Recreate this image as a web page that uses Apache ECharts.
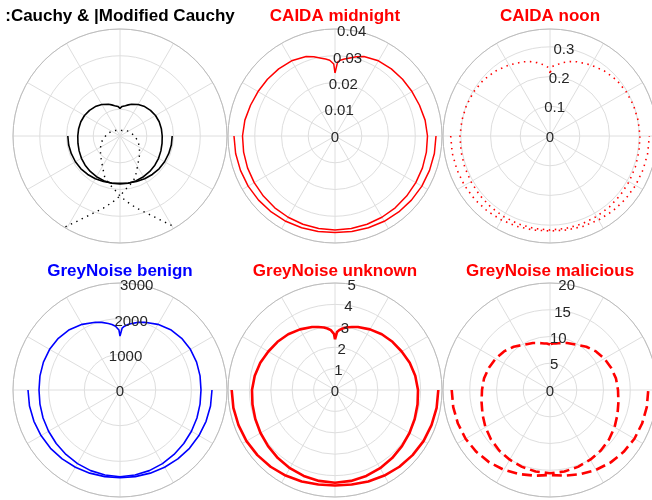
<!DOCTYPE html>
<html><head><meta charset="utf-8">
<script src="https://cdn.jsdelivr.net/npm/echarts/dist/echarts.min.js"></script>
<style>html,body{margin:0;padding:0;background:#fff}#c{width:652px;height:500px}</style>
</head><body><div id="c"></div>
<script>
// ---------- data ----------
const titles = [':Cauchy & |Modified Cauchy', 'CAIDA midnight', 'CAIDA noon', 'GreyNoise benign', 'GreyNoise unknown', 'GreyNoise malicious'];
const titleColors = ['#000000', '#ff0000', '#ff0000', '#0000ff', '#ff0000', '#ff0000'];
const radiusMax = [4, 0.04, 0.36, 3000, 5, 20];
const radiusStep = [1, 0.01, 0.1, 1000, 1, 5];
const showRadiusLabels = [false, true, true, true, true, true];

// closed (Cauchy) curve, left half: angles in degrees (90 -> 180 -> 270); right half is its mirror
const halfAngles = [90, 91, 92, 94, 97, 100, 105, 110, 120, 130, 140, 150, 160, 170, 180, 190, 200, 210, 220, 230, 240, 250, 260, 270];
const closed1 = [1.036, 1.069, 1.088, 1.107, 1.125, 1.151, 1.204, 1.264, 1.361, 1.435, 1.488, 1.533, 1.559, 1.570, 1.578, 1.596, 1.626, 1.664, 1.701, 1.731, 1.757, 1.776, 1.791, 1.794];
const closed2 = [0.02355, 0.02692, 0.02766, 0.02841, 0.02897, 0.02953, 0.03065, 0.03159, 0.03245, 0.03275, 0.03297, 0.03323, 0.03361, 0.03421, 0.03458, 0.03469, 0.03480, 0.03488, 0.03495, 0.03503, 0.03507, 0.03510, 0.03514, 0.03514];
const closed3 = [0.212, 0.2288, 0.2338, 0.2389, 0.2439, 0.2507, 0.2591, 0.2658, 0.2759, 0.2853, 0.2927, 0.2967, 0.2994, 0.3011, 0.3028, 0.3038, 0.3055, 0.3072, 0.3092, 0.3112, 0.3129, 0.3146, 0.3156, 0.3163];
const closed4 = [1514, 1682, 1738, 1794, 1850, 1892, 1963, 2019, 2125, 2209, 2257, 2279, 2285, 2279, 2271, 2279, 2296, 2313, 2335, 2358, 2383, 2406, 2422, 2431];
const closed5 = [2.369, 2.617, 2.710, 2.804, 2.897, 2.967, 3.051, 3.131, 3.271, 3.402, 3.505, 3.598, 3.715, 3.808, 3.879, 3.916, 3.963, 4.019, 4.084, 4.154, 4.220, 4.276, 4.313, 4.332];
const closed6 = [8.50, 8.60, 8.65, 8.71, 8.77, 8.88, 9.08, 9.35, 9.78, 10.56, 11.22, 11.74, 12.15, 12.52, 12.71, 12.99, 13.42, 13.93, 14.39, 14.77, 15.05, 15.29, 15.48, 15.57];

// open (modified) curve, left half: 180 -> 270; right half is its mirror
const openAngles = [180, 190, 200, 210, 220, 230, 240, 250, 260, 270];
const open1 = [1.951, 1.948, 1.936, 1.925, 1.907, 1.877, 1.843, 1.809, 1.783, 1.768];
const open2 = [0.03776, 0.03772, 0.03761, 0.03750, 0.03731, 0.03708, 0.03682, 0.03652, 0.03626, 0.03607];
const open3 = [0.3341, 0.3339, 0.3331, 0.3324, 0.3311, 0.3291, 0.3264, 0.3237, 0.3213, 0.3196];
const open4 = [2579, 2577, 2568, 2557, 2543, 2523, 2501, 2481, 2467, 2462];
const open5 = [4.827, 4.822, 4.799, 4.776, 4.734, 4.682, 4.617, 4.547, 4.486, 4.463];
const open6 = [18.37, 18.37, 18.32, 18.22, 17.98, 17.66, 17.23, 16.73, 16.26, 15.89];

// dotted curve of the first panel (full path)
const dotAngles = [239, 243, 249, 257, 264, 270, 275, 282, 290, 300, 315, 330, 345, 0, 15, 30, 50, 70, 90, 110, 130, 150, 165, 180, 195, 210, 225, 240, 250, 258, 265, 270, 276, 283, 291, 297, 301];
const dotRadii = [3.96, 3.59, 3.16, 2.77, 2.47, 2.24, 2.04, 1.85, 1.66, 1.31, 1.03, 0.84, 0.69, 0.54, 0.44, 0.36, 0.27, 0.22, 0.21, 0.22, 0.27, 0.36, 0.44, 0.54, 0.69, 0.84, 1.03, 1.31, 1.66, 1.85, 2.04, 2.24, 2.47, 2.77, 3.16, 3.59, 3.96];

const closedData = [closed1, closed2, closed3, closed4, closed5, closed6];
const openData = [open1, open2, open3, open4, open5, open6];

// ---------- layout / style ----------
const centers = [[120, 136], [335, 136], [550, 136], [120, 390], [335, 390], [550, 390]];
const R = 107;
const lineStyles = [
  {color: '#000000', width: 1.6, type: 'solid'},
  {color: '#ff0000', width: 1.5, type: 'solid'},
  {color: '#ff0000', width: 1.6, type: [1.5, 4.5]},
  {color: '#0000ff', width: 1.6, type: 'solid'},
  {color: '#ff0000', width: 2.6, type: 'solid'},
  {color: '#ff0000', width: 2.6, type: [10, 5]}
];

function mirrorFull(angles, vals) {
  const pts = angles.map((a, k) => [vals[k], a]);
  for (let k = angles.length - 2; k >= 0; k--) {
    let a = 540 - angles[k];
    if (a > 360) a -= 360;
    pts.push([vals[k], a]);
  }
  return pts;
}

const polar = [], angleAxis = [], radiusAxis = [], series = [], graphic = [];
for (let i = 0; i < 6; i++) {
  polar.push({center: centers[i], radius: R});
  angleAxis.push({
    polarIndex: i, type: 'value', min: 0, max: 360, interval: 30, startAngle: 0, clockwise: false,
    axisLine: {show: true, lineStyle: {color: '#bdbdbd', width: 1}},
    axisTick: {show: false}, axisLabel: {show: false},
    splitLine: {show: true, lineStyle: {color: '#dedede', width: 1}}
  });
  radiusAxis.push({
    polarIndex: i, type: 'value', min: 0, max: radiusMax[i], interval: radiusStep[i],
    axisLine: {show: false}, axisTick: {show: false}, axisLabel: {show: false},
    splitLine: {show: true, lineStyle: {color: '#dedede', width: 1}}
  });
  series.push({
    type: 'line', coordinateSystem: 'polar', polarIndex: i, showSymbol: false, smooth: false, silent: true,
    lineStyle: Object.assign({join: 'round'}, lineStyles[i]), data: mirrorFull(halfAngles, closedData[i]), z: 3
  });
  series.push({
    type: 'line', coordinateSystem: 'polar', polarIndex: i, showSymbol: false, smooth: false, silent: true,
    lineStyle: Object.assign({join: 'round'}, lineStyles[i]), data: mirrorFull(openAngles, openData[i]), z: 3
  });
  graphic.push({
    type: 'text', x: centers[i][0], y: i < 3 ? 16 : 271, z: 20,
    style: {text: titles[i], fill: titleColors[i], font: 'bold 17px "Liberation Sans", Arial, sans-serif',
            align: 'center', verticalAlign: 'middle', textAlign: 'center', textVerticalAlign: 'middle'}
  });
}
series.push({
  type: 'line', coordinateSystem: 'polar', polarIndex: 0, showSymbol: false, smooth: false, silent: true,
  lineStyle: {color: '#000000', width: 1.4, type: [1.4, 4.6]},
  data: dotAngles.map((a, k) => [dotRadii[k], a]), z: 3
});
// label-only polar systems (labels along a ray just right of vertical)
let pi = 6;
for (let i = 0; i < 6; i++) {
  if (!showRadiusLabels[i]) continue;
  polar.push({center: [centers[i][0], centers[i][1] + 1.5], radius: 106.5});
  angleAxis.push({polarIndex: pi, type: 'value', min: 0, max: 360, startAngle: 81, clockwise: false, show: false});
  radiusAxis.push({
    polarIndex: pi, type: 'value', min: 0, max: radiusMax[i], interval: radiusStep[i], z: 10,
    axisLine: {show: false}, axisTick: {show: false}, splitLine: {show: false},
    axisLabel: {show: true, margin: 0, align: 'center', verticalAlign: 'middle', fontSize: 15,
                color: '#262626', fontFamily: 'Liberation Sans',
                showMaxLabel: i !== 2, formatter: v => String(v)}
  });
  pi++;
}

const chart = echarts.init(document.getElementById('c'));
chart.setOption({animation: false, backgroundColor: '#ffffff', polar, angleAxis, radiusAxis, series, graphic});
</script>
</body></html>
